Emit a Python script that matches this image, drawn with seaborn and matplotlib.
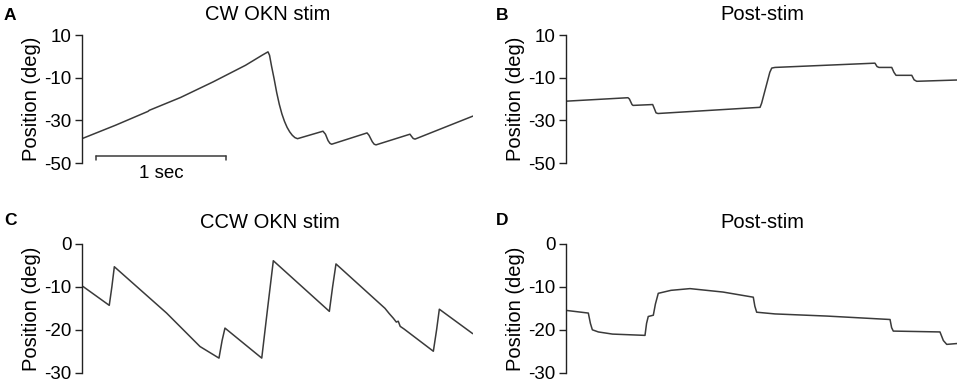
import matplotlib
matplotlib.use("Agg")
import matplotlib.pyplot as plt
import seaborn as sns
import pandas as pd

# ---- data (time in s, eye position in deg) ----
t_A = [0, 0.25, 0.5, 0.51, 0.75, 1.0, 1.25, 1.38, 1.423, 1.435, 1.45, 1.47, 1.49,
       1.51, 1.53, 1.55, 1.57, 1.59, 1.61, 1.63, 1.65, 1.846, 1.865, 1.885, 1.9,
       1.913, 2.185, 2.2, 2.225, 2.24, 2.254, 2.515, 2.527, 2.54, 2.554, 3.0]
v_A = [-38.4, -32.3, -25.8, -25.3, -19.3, -12.0, -4.2, 0.6, 2.1, 0.5, -4.5, -10.5, -17.0,
       -22.5, -27.0, -30.5, -33.3, -35.4, -37.0, -38.1, -38.6, -35.1, -36.5, -39.5, -40.8,
       -41.2, -35.9, -37.0, -40.0, -41.2, -41.5, -36.5, -37.5, -38.5, -38.8, -28.0]

t_B = [0, 0.469, 0.48, 0.5, 0.508, 0.659, 0.672, 0.685, 0.7, 1.485, 1.497, 1.56,
       1.575, 1.6, 2.369, 2.385, 2.4, 2.498, 2.515, 2.531, 2.652, 2.67, 2.69, 3.0]
v_B = [-21.0, -19.4, -20.0, -22.6, -23.0, -22.6, -24.5, -26.5, -26.8, -23.9, -22.0, -7.5,
       -5.5, -5.2, -3.2, -4.8, -5.2, -5.2, -7.5, -8.9, -8.9, -11.0, -11.7, -11.1]

t_C = [0, 0.202, 0.222, 0.241, 0.643, 0.9, 1.046, 1.07, 1.092, 1.375, 1.42, 1.464,
       1.895, 1.92, 1.946, 2.323, 2.355, 2.387, 2.41, 2.425, 2.44, 2.469, 2.695,
       2.72, 2.741, 2.998]
v_C = [-9.9, -14.3, -10.0, -5.3, -16.1, -23.9, -26.6, -22.5, -19.6, -26.6, -15.0, -3.9,
       -15.7, -10.0, -4.65, -15.0, -16.2, -17.3, -18.2, -18.0, -19.2, -19.8, -25.0,
       -20.0, -15.2, -20.9]

t_D = [0, 0.164, 0.18, 0.195, 0.241, 0.35, 0.6, 0.612, 0.625, 0.664, 0.68, 0.702,
       0.8, 0.946, 1.2, 1.433, 1.445, 1.459, 1.6, 2.0, 2.485, 2.497, 2.51, 2.869,
       2.895, 2.921, 3.0]
v_D = [-15.5, -16.1, -18.5, -20.0, -20.5, -21.0, -21.3, -18.5, -16.9, -16.6, -14.0, -11.5,
       -10.8, -10.4, -11.2, -12.4, -14.5, -15.9, -16.3, -16.8, -17.6, -19.5, -20.3, -20.5,
       -22.5, -23.4, -23.2]

titles = ["CW OKN stim", "Post-stim", "CCW OKN stim", "Post-stim"]
letters = ["A", "B", "C", "D"]
yticks_top = [10, -10, -30, -50]
yticks_bot = [0, -10, -20, -30]
scalebar_sec = [0.1, 1.1]
scalebar_label = "1 sec"
ylabel = "Position (deg)"

sns.set_style("white")
plt.rcParams['font.family'] = ['Liberation Sans', 'DejaVu Sans']
plt.rcParams['axes.unicode_minus'] = False
plt.rcParams['text.color'] = 'black'
plt.rcParams['axes.labelcolor'] = 'black'
plt.rcParams['ytick.color'] = 'black'

W, H = 965, 382
fig = plt.figure(figsize=(W / 100, H / 100), dpi=100)

line_color = "#3a3a3a"

def fx(px):
    return px / W

def fy(py):
    return 1 - py / H

panels = [
    (t_A, v_A, 82, 35, 163, yticks_top, (-50, 10)),
    (t_B, v_B, 566, 35, 163, yticks_top, (-50, 10)),
    (t_C, v_C, 82, 244, 372.7, yticks_bot, (-30, 0)),
    (t_D, v_D, 566, 244, 372.7, yticks_bot, (-30, 0)),
]
axes = []
for (t, v, left, top, bot, yt, yl) in panels:
    ax = fig.add_axes([fx(left), fy(bot), fx(391), (bot - top) / H])
    df = pd.DataFrame({"t": t, "pos": v})
    sns.lineplot(data=df, x="t", y="pos", ax=ax, color=line_color, lw=1.1)
    ax.set_xlim(-0.0077, 3.0)
    ax.set_ylim(*yl)
    ax.set_yticks(yt)
    ax.set_yticklabels([str(y) for y in yt])
    ax.set_xticks([])
    ax.set_xlabel("")
    ax.set_ylabel(ylabel, fontsize=14.5, labelpad=2, color="black")
    for s in ["top", "right", "bottom"]:
        ax.spines[s].set_visible(False)
    ax.spines["left"].set_color("#222222")
    ax.spines["left"].set_linewidth(1.0)
    ax.tick_params(axis="y", direction="out", length=5, width=1.0, color="#222222",
                   labelcolor="black", labelsize=13.5, pad=2.5, left=True)
    ax.patch.set_alpha(0)
    axes.append(ax)

# scale bar on panel A
axA = axes[0]
yb = -46.9
axA.plot(scalebar_sec, [yb, yb], color=line_color, lw=1.1, clip_on=False)
for xs in scalebar_sec:
    axA.plot([xs, xs], [yb, yb - 1.6], color=line_color, lw=1.1, clip_on=False)
fig.text(fx(161), fy(174), scalebar_label, ha="center", va="center", fontsize=13.5)

# titles and letters
title_pos = [(268, 14), (762, 14), (270, 223), (762, 223)]
letter_pos = [(4, 15), (496, 15), (4, 220), (496, 220)]
for ttl, (x, y) in zip(titles, title_pos):
    fig.text(fx(x), fy(y), ttl, ha="center", va="center", fontsize=14.5)
for lt, (x, y) in zip(letters, letter_pos):
    fig.text(fx(x), fy(y), lt, ha="left", va="center", fontsize=12.5, fontweight="bold")

fig.savefig("out.png", dpi=100)
